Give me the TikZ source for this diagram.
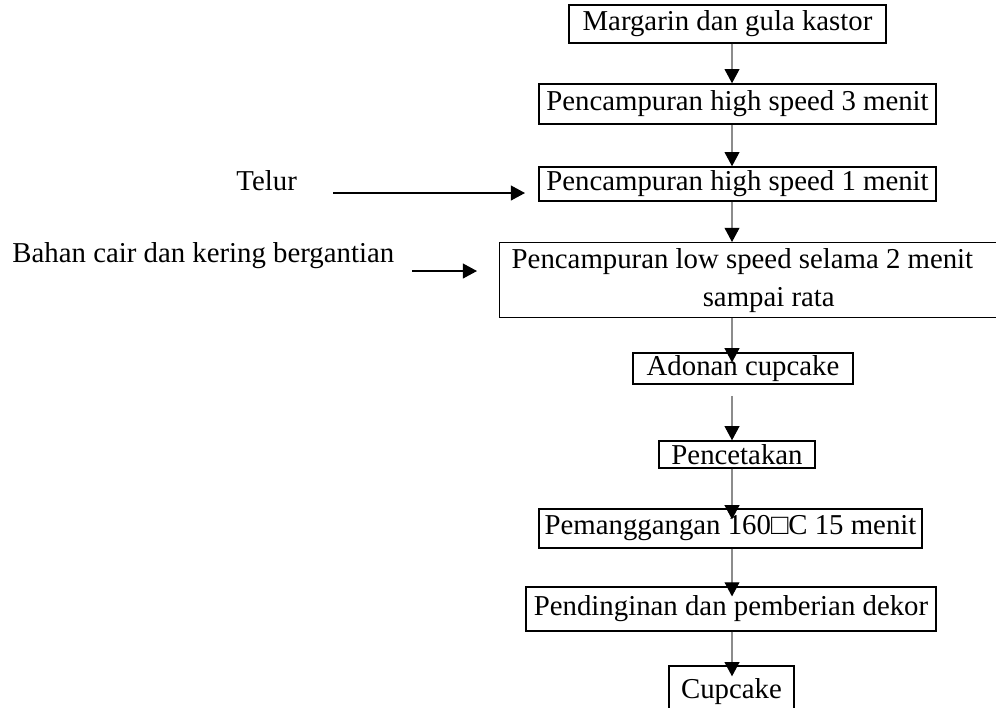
\documentclass[tikz,border=0pt]{standalone}
\usepackage{fontspec}
\setmainfont{Liberation Serif}
\usetikzlibrary{arrows.meta}
\usetikzlibrary{positioning}

\tikzset{
  stage/.style={draw, line width=0.6pt, inner sep=0pt, align=center},
  flow/.style={->, draw=black!45, line width=0.45pt},
  feed/.style={->, draw=black, line width=0.6pt},
}

\begin{document}
\begin{tikzpicture}[x=0.41667pt, y=-0.41667pt, >={Triangle[width=6.2pt,length=5.9pt,color=black]}, font=\fontsize{12}{15.8}\selectfont]
\useasboundingbox (0,0) rectangle (996,707);
%\draw[red] (0,0) rectangle (996,707);
\coordinate (ax) at (732,0);

\path node[stage, minimum width=132.1pt, minimum height=15.8pt] (mix0) at (727.5,24) {Margarin dan gula kastor};
\path node[stage, minimum width=165.4pt, minimum height=16.7pt] (mix1) at (737.5,104) {Pencampuran high speed 3 menit};
\path node[stage, minimum width=165.4pt, minimum height=14.2pt] (mix2) at (737.5,184) {Pencampuran high speed 1 menit};
\path node[stage, anchor=north west, align=flush left, inner xsep=5pt, text width=205pt, minimum height=31.25pt] (mix3) at (499,242) {Pencampuran low speed selama 2 menit\\\hspace*{79.6pt}sampai rata};
\path node[stage, minimum width=91.7pt, minimum height=12.9pt] (dough) at (743,368.5) {Adonan cupcake};
\path node[stage, minimum width=65pt, minimum height=11.25pt] (mould) at (737,454.5) {Pencetakan};
\path node[stage, minimum width=159.6pt, minimum height=16.25pt] (bake) at (730.5,528.5) {Pemanggangan 160□C 15 menit};
\path node[stage, minimum width=170.8pt, minimum height=18.3pt] (cool) at (731,609) {Pendinginan dan pemberian dekor};
\path node[stage, minimum width=52.1pt, minimum height=21.7pt] (cake) at (731.5,692) {Cupcake};

\path node[anchor=base west, inner sep=0pt] (egg) at (236,190) {Telur};
\path node[anchor=base west, inner sep=0pt] (mixin) at (12,262) {Bahan cair dan kering bergantian};

\coordinate (egg0) at (333,193);
\coordinate (egg1) at (525,193);
\coordinate (mixin0) at (412,271);
\coordinate (mixin1) at (477,271);
\draw[feed] (egg0) -- (egg1);
\draw[feed] (mixin0) -- (mixin1);

\draw[flow] (mix0.south -| ax) -- (mix1.north -| ax);
\draw[flow] (mix1.south -| ax) -- (mix2.north -| ax);
\draw[flow] (mix2.south -| ax) -- (mix3.north -| ax);
\draw[flow] (mix3.south -| ax) -- ([yshift=-4.2pt]dough.north -| ax);
\draw[flow] ([yshift=-4.6pt]dough.south -| ax) -- (mould.north -| ax);
\draw[flow] (mould.south -| ax) -- ([yshift=-4.6pt]bake.north -| ax);
\draw[flow] (bake.south -| ax) -- ([yshift=-4.2pt]cool.north -| ax);
\draw[flow] (cool.south -| ax) -- ([yshift=-4.6pt]cake.north -| ax);
\end{tikzpicture}
\end{document}
